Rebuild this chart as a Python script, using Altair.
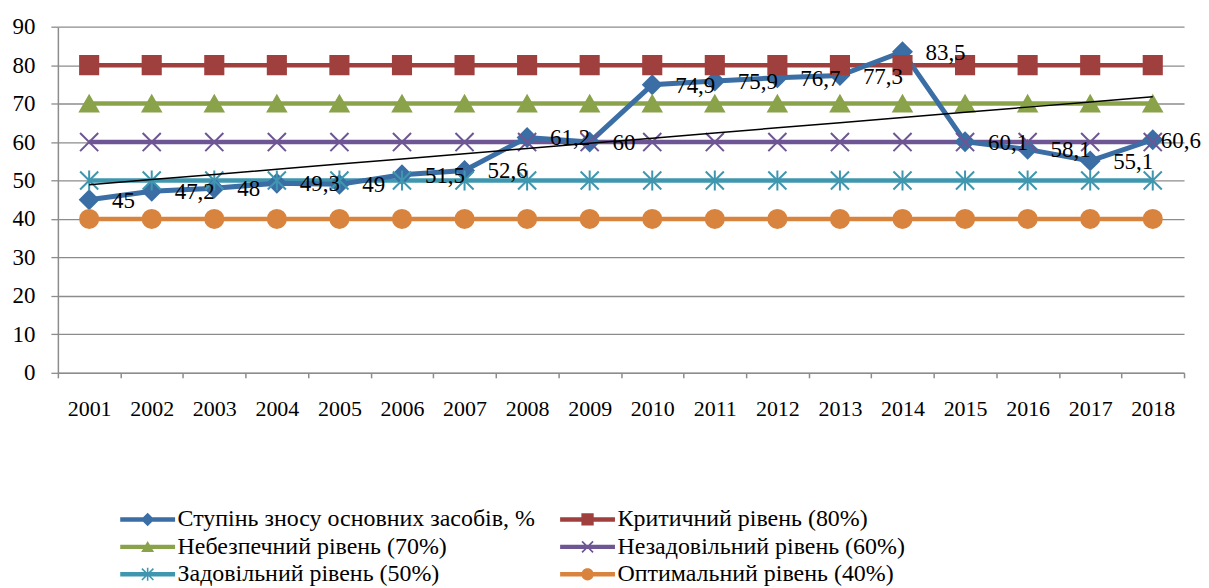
import math
import altair as alt
import pandas as pd

# ---------------- data ----------------
years = [str(y) for y in range(2001, 2019)]
wear = [45, 47.2, 48, 49.3, 49, 51.5, 52.6, 61.2, 60, 74.9, 75.9, 76.7, 77.3,
        83.5, 60.1, 58.1, 55.1, 60.6]
series_names = [
    "Ступінь зносу основних засобів, %",
    "Критичний рівень (80%)",
    "Небезпечний рівень (70%)",
    "Незадовільний рівень (60%)",
    "Задовільний рівень (50%)",
    "Оптимальний рівень (40%)",
]
level_values = [80, 70, 60, 50, 40]
colors = ["#3a6ea5", "#a0403e", "#8aa34a", "#6e5593", "#3f97af", "#d8843f"]

rows = []
for i, (yr, v) in enumerate(zip(years, wear)):
    rows.append({"year": yr, "idx": i + 1, "series": series_names[0], "value": v})
for name, lv in zip(series_names[1:], level_values):
    for i, yr in enumerate(years):
        rows.append({"year": yr, "idx": i + 1, "series": name, "value": lv})
df = pd.DataFrame(rows)
df_wear = df[df["series"] == series_names[0]]
df_levels = df[df["series"] != series_names[0]]

# ---------------- symbol paths ----------------
def poly(points):
    a = 0
    n = len(points)
    for k in range(n):
        x1, y1 = points[k]
        x2, y2 = points[(k + 1) % n]
        a += x1 * y2 - x2 * y1
    if a < 0:
        points = points[::-1]
    return "M" + "L".join(f"{x:.3f},{y:.3f}" for x, y in points) + "Z"

def arm(angle_deg, half_len, half_w):
    t = math.radians(angle_deg)
    dx, dy = math.cos(t), math.sin(t)
    nx, ny = -dy, dx
    pts = [
        (-dx * half_len + nx * half_w, -dy * half_len + ny * half_w),
        (dx * half_len + nx * half_w, dy * half_len + ny * half_w),
        (dx * half_len - nx * half_w, dy * half_len - ny * half_w),
        (-dx * half_len - nx * half_w, -dy * half_len - ny * half_w),
    ]
    return poly(pts)

bar = poly([(-4.23, -0.34), (4.23, -0.34), (4.23, 0.34), (-4.23, 0.34)])
leg_diamond = poly([(-1.05, 0), (0, -1.05), (1.05, 0), (0, 1.05)])
leg_square = poly([(-0.95, -0.95), (0.95, -0.95), (0.95, 0.95), (-0.95, 0.95)])
leg_triangle = poly([(0, -0.9), (1.0, 0.8), (-1.0, 0.8)])
leg_x = arm(45, 1.2, 0.13) + arm(135, 1.2, 0.13)
leg_star = arm(45, 1.25, 0.12) + arm(135, 1.25, 0.12) + arm(90, 1.0, 0.12)
leg_circle = poly([(0.95 * math.cos(2 * math.pi * k / 28), 0.95 * math.sin(2 * math.pi * k / 28)) for k in range(28)])
legend_paths = [bar + leg_diamond, bar + leg_square, bar + leg_triangle,
                bar + leg_x, bar + leg_star, bar + leg_circle]

plot_shapes = ["diamond", "square", "triangle-up",
               "M-1,-1L1,1M-1,1L1,-1",
               "M-1,-1L1,1M-1,1L1,-1M0,-1.1L0,1.1",
               "circle"]

FONT = "Liberation Serif"

def cscale():
    return alt.Scale(domain=series_names, range=colors)

x_enc = alt.X(
    "year:O",
    scale=alt.Scale(type="band", domain=years, paddingInner=0, paddingOuter=0),
    axis=alt.Axis(title=None, labelAngle=0, tickBand="extent", grid=False,
                  tickSize=5, labelPadding=21, labelFont=FONT, labelFontSize=22,
                  labelColor="black", domainColor="#8c8c8c", tickColor="#8c8c8c",
                  domainWidth=1.5, tickWidth=1.5),
)
y_scale = alt.Scale(domain=[0, 90], nice=False, zero=True)
y_axis = alt.Axis(title=None, values=list(range(0, 91, 10)), grid=True,
                  labelOverlap=False,
                  gridColor="#8c8c8c", gridWidth=1.3, tickSize=7, labelPadding=16,
                  labelFont=FONT, labelFontSize=23, labelColor="black",
                  domainColor="#8c8c8c", tickColor="#8c8c8c", domainWidth=1.5,
                  tickWidth=1.3)

def yq(field):
    return alt.Y(field, scale=y_scale, axis=y_axis)

level_lines = alt.Chart(df_levels).mark_line(strokeWidth=4.5).encode(
    x=x_enc, y=yq("value:Q"),
    color=alt.Color("series:N", scale=cscale(), legend=None),
)

wear_line = alt.Chart(df_wear).mark_line(strokeWidth=5, color=colors[0]).encode(
    x=x_enc, y=yq("value:Q"),
)

markers = alt.Chart(df).mark_point(filled=True, size=330, strokeWidth=2, opacity=1).encode(
    x=x_enc, y=yq("value:Q"),
    color=alt.Color("series:N", scale=cscale(), legend=None),
    stroke=alt.Stroke("series:N", scale=cscale(), legend=None),
    shape=alt.Shape("series:N", scale=alt.Scale(domain=series_names, range=plot_shapes), legend=None),
)

leg_props = dict(orient="none", legendX=78, legendY=482, columns=2, direction="horizontal",
                 title=None, symbolSize=169, symbolStrokeWidth=0, symbolOpacity=1,
                 labelFont=FONT, labelFontSize=24, labelColor="black", labelOffset=18,
                 columnPadding=24, rowPadding=3.5, labelLimit=600)

# legend-only layer: its points sit outside the plot and are clipped away
legend_layer = alt.Chart(df).transform_calculate(
    hidden="-1000"
).mark_point(filled=True, clip=True).encode(
    x=x_enc, y=yq("hidden:Q"),
    color=alt.Color("series:N", scale=cscale(), legend=alt.Legend(**leg_props)),
    shape=alt.Shape("series:N", scale=alt.Scale(domain=series_names, range=legend_paths),
                    legend=alt.Legend(**leg_props)),
)

trend = alt.Chart(df_wear).transform_calculate(
    xy="datum.idx * datum.value", xx="datum.idx * datum.idx"
).transform_joinaggregate(
    mx="mean(idx)", my="mean(value)", mxy="mean(xy)", mxx="mean(xx)"
).transform_calculate(
    fit="datum.my + (datum.mxy - datum.mx * datum.my) / (datum.mxx - datum.mx * datum.mx) * (datum.idx - datum.mx)"
).mark_line(color="black", strokeWidth=1.5).encode(
    x=x_enc, y=yq("fit:Q"),
)

label_expr = "replace(toString(datum.value), '.', ',')"
labels = alt.Chart(df_wear).transform_filter(
    f"datum.year != '{years[-1]}'"
).transform_calculate(lbl=label_expr).mark_text(
    align="left", baseline="middle", dx=23, dy=1, font=FONT, fontSize=23, color="black"
).encode(x=x_enc, y=yq("value:Q"), text="lbl:N")

last_label = alt.Chart(df_wear).transform_filter(
    f"datum.year == '{years[-1]}'"
).transform_calculate(lbl=label_expr).mark_text(
    align="left", baseline="middle", dx=8, dy=1, font=FONT, fontSize=23, color="black"
).encode(x=x_enc, y=yq("value:Q"), text="lbl:N")

chart = alt.layer(
    level_lines, wear_line, markers, legend_layer, trend, labels, last_label
).resolve_scale(
    color="independent", shape="independent"
).properties(
    width=1129, height=347,
    padding={"left": 50, "top": 18, "right": 17, "bottom": 215},
    autosize=alt.AutoSizeParams(type="none"),
).configure(
    font=FONT
).configure_view(strokeWidth=0)

chart.save("out.html", embed_options={"renderer": "svg", "actions": False})
